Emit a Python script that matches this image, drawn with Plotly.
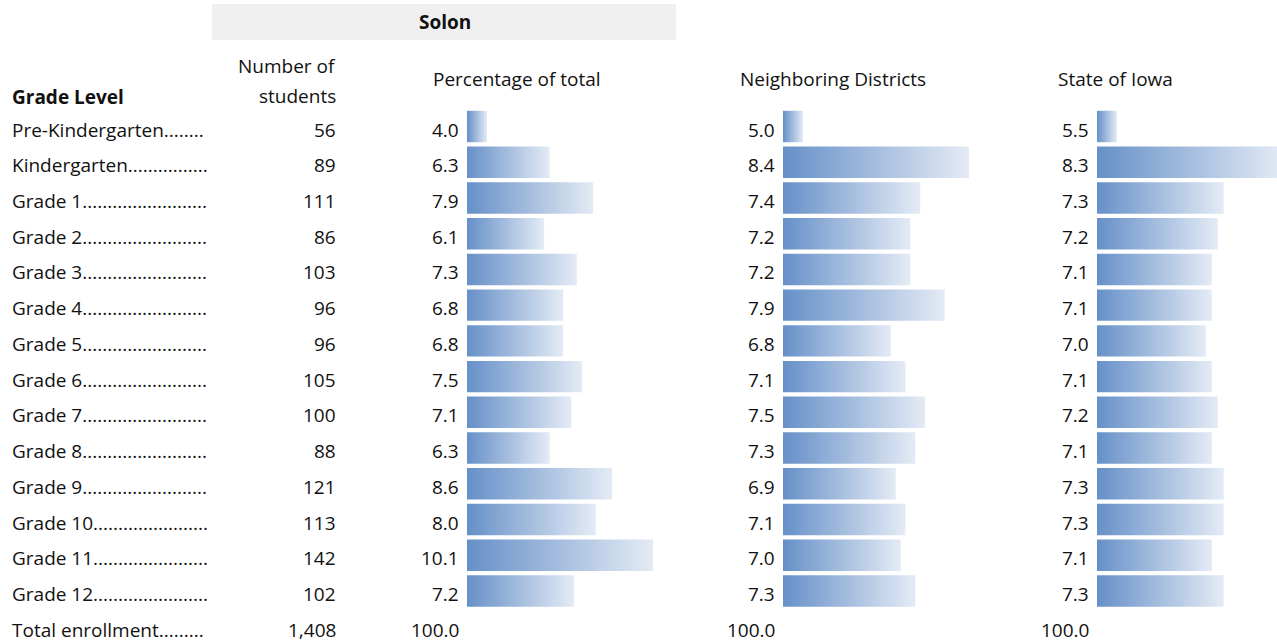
import plotly.graph_objects as go

# ---- data ----
grade_names = ["Pre-Kindergarten", "Kindergarten", "Grade 1", "Grade 2", "Grade 3", "Grade 4",
               "Grade 5", "Grade 6", "Grade 7", "Grade 8", "Grade 9", "Grade 10", "Grade 11",
               "Grade 12", "Total enrollment"]
leader_dots = [8, 16, 25, 25, 25, 25, 25, 25, 25, 25, 25, 23, 23, 23, 9]
num_students = ["56", "89", "111", "86", "103", "96", "96", "105", "100", "88", "121", "113",
                "142", "102", "1,408"]
solon_pct = [4.0, 6.3, 7.9, 6.1, 7.3, 6.8, 6.8, 7.5, 7.1, 6.3, 8.6, 8.0, 10.1, 7.2]
neighbor_pct = [5.0, 8.4, 7.4, 7.2, 7.2, 7.9, 6.8, 7.1, 7.5, 7.3, 6.9, 7.1, 7.0, 7.3]
iowa_pct = [5.5, 8.3, 7.3, 7.2, 7.1, 7.1, 7.0, 7.1, 7.2, 7.1, 7.3, 7.3, 7.1, 7.3]
total_pct = "100.0"

col_headers = ["Percentage of total", "Neighboring Districts", "State of Iowa"]
group_title = "Solon"
count_header = ["Number of", "students"]
row_header = "Grade Level"

# ---- layout constants ----
W, H = 1277, 644
FONT = "Open Sans"
FS = 19
TXT = "#111111"
ROW0, ROWSTEP = 126.5, 35.73       # pixel centre of first row, row spacing
BAR_HALF = 0.44                    # half bar thickness (row units)
MIN_LEN, MAX_LEN = 20, 186         # Excel-style data bar lengths (px)
GRAD = [[0, "#6690C8"], [1, "#E4EBF5"]]

def px(x):
    return x / W

def py(y):
    return 1 - y / H

fig = go.Figure()

columns = [
    # values, bar-start pixel, value right-edge pixel, header centre pixel
    (solon_pct, 467, 461, 517),
    (neighbor_pct, 783, 777, 833),
    (iowa_pct, 1097, 1091, 1115),
]

layout_axes = {}
for k, (vals, x0, _, _) in enumerate(columns):
    vmin, vmax = min(vals), max(vals)
    unit = (MAX_LEN - MIN_LEN) / (vmax - vmin)       # px per value unit
    base = vmin - MIN_LEN / unit
    x1 = min(x0 + MAX_LEN, W)
    rng = [base, base + (x1 - x0) / unit]
    axname = "xaxis" if k == 0 else f"xaxis{k + 1}"
    xref = "x" if k == 0 else f"x{k + 1}"
    layout_axes[axname] = dict(domain=[px(x0), px(x1)], range=rng, visible=False,
                               anchor="y", fixedrange=True)
    for i, v in enumerate(vals):
        fig.add_trace(go.Scatter(
            x=[base, v, v, base, base],
            y=[i - BAR_HALF, i - BAR_HALF, i + BAR_HALF, i + BAR_HALF, i - BAR_HALF],
            xaxis=xref, yaxis="y", mode="lines", fill="toself",
            fillgradient=dict(type="horizontal", colorscale=GRAD),
            line=dict(width=0, color="rgba(0,0,0,0)"),
            hoverinfo="skip", showlegend=False))

n_rows = len(grade_names)
y_top = -ROW0 / ROWSTEP
y_bot = (H - ROW0) / ROWSTEP

ann = []
def add_text(x, y, text, xanchor="right", yref="y", bold=False, yshift=-3, align="right"):
    ann.append(dict(x=px(x), xref="paper", y=y, yref=yref, text=f"<b>{text}</b>" if bold else text,
                    showarrow=False, xanchor=xanchor, yanchor="middle", yshift=yshift, align=align,
                    font=dict(family=FONT, size=FS, color=TXT)))

for i in range(n_rows):
    add_text(10, i, grade_names[i] + "." * leader_dots[i], xanchor="left", align="left")
    add_text(338, i, num_students[i])
for k, (vals, _, xr, _) in enumerate(columns):
    for i, v in enumerate(vals):
        add_text(xr, i, f"{v:.1f}")
    add_text(xr, n_rows - 1, total_pct)

# headers
add_text(445, py(22), group_title, xanchor="center", yref="paper", bold=True, yshift=0, align="center")
add_text(10, py(97), row_header, xanchor="left", yref="paper", bold=True, yshift=0, align="left")
add_text(338, py(66), count_header[0], xanchor="right", yref="paper", yshift=0)
add_text(338, py(96), count_header[1], xanchor="right", yref="paper", yshift=0)
for k, (_, _, _, xc) in enumerate(columns):
    add_text(xc, py(79), col_headers[k], xanchor="center", yref="paper", yshift=0, align="center")

fig.update_layout(
    width=W, height=H, margin=dict(l=0, r=0, t=0, b=0),
    paper_bgcolor="white", plot_bgcolor="white",
    yaxis=dict(domain=[0, 1], range=[y_bot, y_top], visible=False, fixedrange=True),
    annotations=ann,
    shapes=[dict(type="rect", xref="paper", yref="paper", x0=px(212), x1=px(676),
                 y0=py(40), y1=py(4), fillcolor="#F0F0F0", line=dict(width=0), layer="below")],
    **layout_axes,
)

fig.write_html("out.html", config={"displayModeBar": False},
               post_script="document.body.style.margin='0';document.body.style.padding='0';")
